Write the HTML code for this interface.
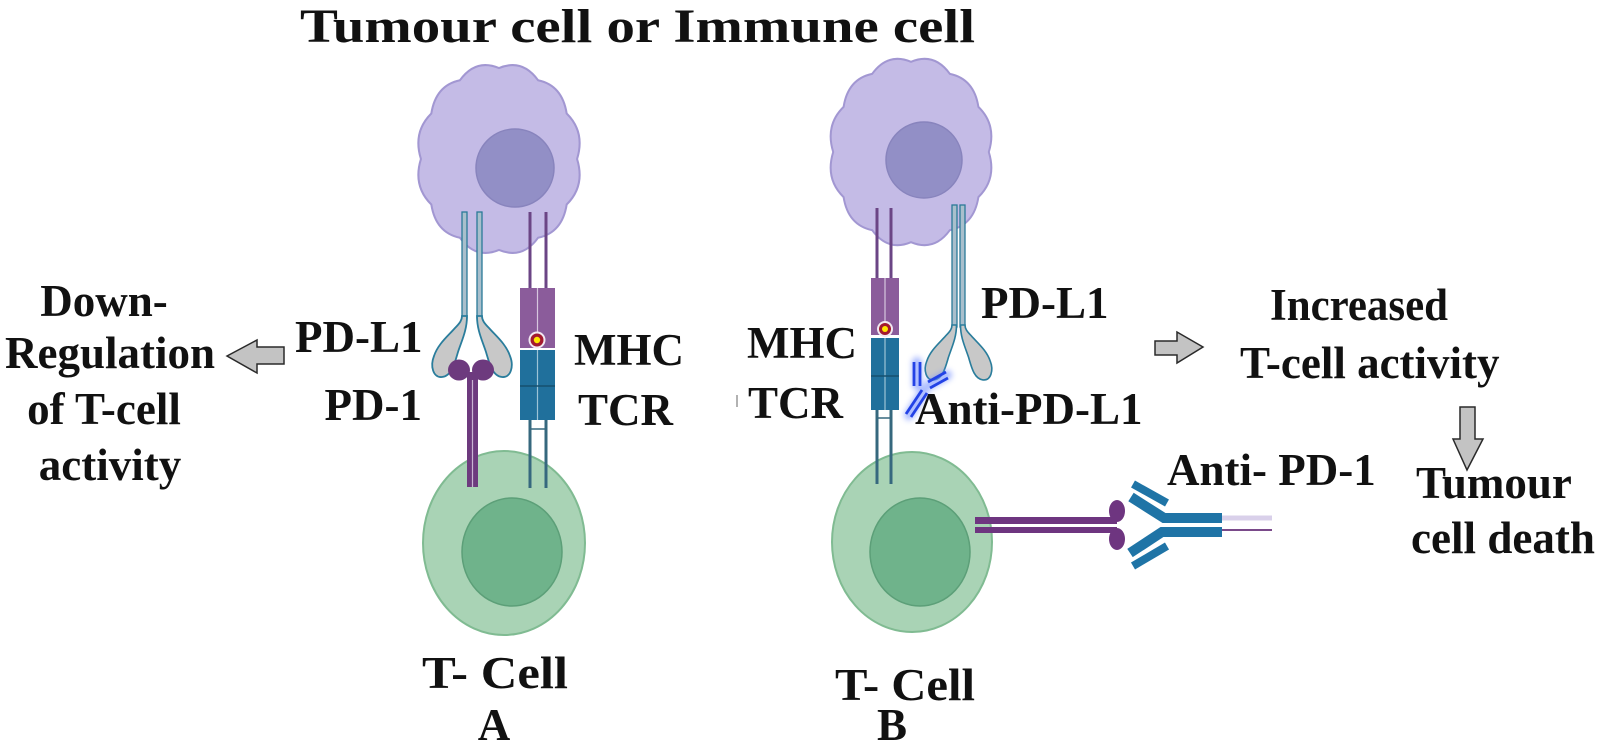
<!DOCTYPE html>
<html>
<head>
<meta charset="utf-8">
<style>
html,body{margin:0;padding:0;background:#fff;}
svg{display:block;}
text{font-family:"Liberation Serif","Times New Roman",serif;font-weight:bold;fill:#111;}
</style>
</head>
<body>
<svg width="1598" height="743" viewBox="0 0 1598 743" xmlns="http://www.w3.org/2000/svg">
<defs>
  <filter id="glow" x="-50%" y="-50%" width="200%" height="200%"><feGaussianBlur stdDeviation="3"/></filter>
  <path id="lobe" d="M462,306 L467,306 C467,320 462,330 458,342 C455,352 452,366 442,367 C433,368 430,356 434,346 C438,334 448,326 455,318 C460,313 462,310 462,306 Z" fill="#c8c8c8" stroke="#2a7d9c" stroke-width="1.8"/>
</defs>
<rect width="1598" height="743" fill="#fff"/>

<!-- Title -->
<text x="300" y="42" font-size="48" textLength="675" lengthAdjust="spacingAndGlyphs">Tumour cell or Immune cell</text>

<!-- T cells -->
<ellipse cx="504" cy="543" rx="81" ry="92" fill="#a9d3b5" stroke="#80bb92" stroke-width="2"/>
<ellipse cx="512" cy="552" rx="50" ry="54" fill="#6fb38b" stroke="#5c9f78" stroke-width="1.5"/>
<ellipse cx="912" cy="542" rx="80" ry="90" fill="#a9d3b5" stroke="#80bb92" stroke-width="2"/>
<ellipse cx="920" cy="552" rx="50" ry="54" fill="#6fb38b" stroke="#5c9f78" stroke-width="1.5"/>

<!-- Tumour cells -->
<path transform="translate(499,159) scale(1.03,1.03) translate(-494,-158)" d="M569.8,158 Q577.9,184.2 559.7,202.2 Q555.4,229.6 531.9,234.5 Q516.5,255.8 494,246.3 Q471.5,255.8 456.1,234.5 Q432.6,229.6 428.3,202.2 Q410.1,184.2 418.2,158 Q410.1,131.8 428.3,113.8 Q432.6,86.4 456.1,81.5 Q471.5,60.2 494,69.7 Q516.5,60.2 531.9,81.5 Q555.4,86.4 559.7,113.8 Q577.9,131.8 569.8,158 Z" fill="#c4bbe6" stroke="#a297d2" stroke-width="2"/>
<circle cx="515" cy="168" r="39" fill="#928fc6" stroke="#8884bd" stroke-width="1.5"/>
<path d="M988.8,152 Q997.1,178.8 978.4,197.1 Q974,225.1 949.9,230.1 Q934.1,251.9 911,242.2 Q887.9,251.9 872.1,230.1 Q848,225.1 843.6,197.1 Q824.9,178.8 833.2,152 Q824.9,125.2 843.6,106.9 Q848,78.9 872.1,73.9 Q887.9,52.1 911,61.8 Q934.1,52.1 949.9,73.9 Q974,78.9 978.4,106.9 Q997.1,125.2 988.8,152 Z" fill="#c4bbe6" stroke="#a297d2" stroke-width="2"/>
<circle cx="924" cy="160" r="38" fill="#928fc6" stroke="#8884bd" stroke-width="1.5"/>

<!-- ===== Panel A receptors ===== -->
<!-- PD-L1 A -->
<rect x="462" y="212" width="5" height="106" fill="#a9bfcc" stroke="#2b7a98" stroke-width="1.3"/>
<rect x="477" y="212" width="5" height="106" fill="#a9bfcc" stroke="#2b7a98" stroke-width="1.3"/>
<use href="#lobe" transform="translate(0,10)"/>
<use href="#lobe" transform="translate(944,10) scale(-1,1)"/>
<!-- PD-1 A -->
<rect x="467" y="372" width="11" height="115" fill="#6d3a7e"/>
<line x1="472.5" y1="380" x2="472.5" y2="487" stroke="#c9b3d3" stroke-width="1.2"/>
<ellipse cx="459" cy="370" rx="11" ry="10.5" fill="#6d3a7e"/>
<ellipse cx="483" cy="370" rx="11" ry="10.5" fill="#6d3a7e"/>
<!-- MHC/TCR A -->
<line x1="530" y1="212" x2="530" y2="290" stroke="#6b4585" stroke-width="3"/>
<line x1="546" y1="212" x2="546" y2="290" stroke="#6b4585" stroke-width="3"/>
<rect x="520" y="288" width="35" height="60" fill="#8b5c9b"/>
<line x1="537.5" y1="288" x2="537.5" y2="348" stroke="#d7c6de" stroke-width="1.2"/>
<rect x="520" y="350" width="35" height="70" fill="#20709c"/>
<line x1="537.5" y1="350" x2="537.5" y2="420" stroke="#9cc3d6" stroke-width="1.2"/>
<line x1="520" y1="386" x2="555" y2="386" stroke="#16506f" stroke-width="1.5"/>
<circle cx="537" cy="340" r="8.5" fill="#f1e8f1"/>
<circle cx="537" cy="340" r="6.5" fill="#a3192f"/>
<circle cx="537" cy="340" r="3.2" fill="#ffe600"/>
<line x1="530" y1="420" x2="530" y2="488" stroke="#36687e" stroke-width="3"/>
<line x1="546" y1="420" x2="546" y2="488" stroke="#36687e" stroke-width="3"/>
<line x1="530" y1="429" x2="546" y2="429" stroke="#36687e" stroke-width="1.5"/>

<!-- ===== Panel B receptors ===== -->
<!-- MHC/TCR B -->
<line x1="877" y1="208" x2="877" y2="280" stroke="#6b4585" stroke-width="3"/>
<line x1="891" y1="208" x2="891" y2="280" stroke="#6b4585" stroke-width="3"/>
<rect x="871" y="278" width="28" height="57" fill="#8b5c9b"/>
<line x1="885" y1="278" x2="885" y2="335" stroke="#d7c6de" stroke-width="1.2"/>
<rect x="871" y="338" width="28" height="72" fill="#20709c"/>
<line x1="885" y1="338" x2="885" y2="410" stroke="#9cc3d6" stroke-width="1.2"/>
<line x1="871" y1="376" x2="899" y2="376" stroke="#16506f" stroke-width="1.5"/>
<circle cx="885" cy="329" r="8" fill="#f1e8f1"/>
<circle cx="885" cy="329" r="6" fill="#a3192f"/>
<circle cx="885" cy="329" r="3" fill="#ffe600"/>
<line x1="877" y1="410" x2="877" y2="484" stroke="#36687e" stroke-width="3"/>
<line x1="891" y1="410" x2="891" y2="484" stroke="#36687e" stroke-width="3"/>
<line x1="877" y1="418" x2="891" y2="418" stroke="#36687e" stroke-width="1.5"/>
<!-- PD-L1 B -->
<rect x="952" y="205" width="5" height="122" fill="#a9bfcc" stroke="#2b7a98" stroke-width="1.3"/>
<rect x="960" y="205" width="5" height="122" fill="#a9bfcc" stroke="#2b7a98" stroke-width="1.3"/>
<use href="#lobe" transform="translate(952,325) scale(0.9) translate(-462,-306)"/>
<use href="#lobe" transform="translate(1917,0) scale(-1,1) translate(952,325) scale(0.9) translate(-462,-306)"/>
<!-- Anti-PD-L1 antibody -->
<g stroke="#6f8cff" stroke-width="10" stroke-linecap="round" opacity="0.6" filter="url(#glow)" fill="none">
  <line x1="917" y1="362" x2="917" y2="385"/>
  <line x1="929" y1="385" x2="947" y2="375"/>
  <line x1="924" y1="391" x2="909" y2="415"/>
</g>
<g stroke="#2342e6" stroke-width="2.8" fill="none">
  <line x1="914" y1="362" x2="914" y2="386"/>
  <line x1="920" y1="362" x2="920" y2="386"/>
  <line x1="928" y1="382" x2="946" y2="372"/>
  <line x1="930" y1="388" x2="948" y2="378"/>
  <line x1="922" y1="390" x2="906" y2="414"/>
  <line x1="927" y1="393" x2="911" y2="417"/>
</g>
<!-- small tick before TCR B -->
<line x1="737" y1="395" x2="737" y2="407" stroke="#999" stroke-width="1.5"/>

<!-- PD-1 on T cell B + Anti-PD-1 -->
<rect x="975" y="517" width="142" height="7" fill="#6e3580"/>
<rect x="975" y="527" width="142" height="6" fill="#6e3580"/>
<ellipse cx="1117" cy="511" rx="8" ry="11" fill="#6e3580"/>
<ellipse cx="1117" cy="539" rx="8" ry="11" fill="#6e3580"/>
<line x1="1220" y1="518" x2="1272" y2="518" stroke="#d9d0ea" stroke-width="5"/>
<line x1="1220" y1="530" x2="1272" y2="530" stroke="#7a4a8a" stroke-width="2"/>
<g stroke="#1f74a6" fill="none" stroke-linejoin="miter">
  <polyline points="1222,518 1164,518 1131,497" stroke-width="10"/>
  <polyline points="1222,532 1162,532 1130,553" stroke-width="10"/>
  <line x1="1133" y1="484" x2="1167" y2="503" stroke-width="8"/>
  <line x1="1133" y1="566" x2="1167" y2="546" stroke-width="8"/>
</g>

<!-- Arrows -->
<polygon points="227,356 257,340 257,347 284,347 284,364 257,364 257,373" fill="#c3c3c3" stroke="#2a2a2a" stroke-width="1.5"/>
<polygon points="1155,341 1177,341 1177,332 1203,347 1177,363 1177,355 1155,355" fill="#c3c3c3" stroke="#2a2a2a" stroke-width="1.5"/>
<polygon points="1460,407 1475,407 1475,439 1483,439 1467,470 1453,439 1460,439" fill="#c3c3c3" stroke="#2a2a2a" stroke-width="1.5"/>

<!-- Labels -->
<text x="104" y="316" font-size="45" text-anchor="middle">Down-</text>
<text x="110" y="368" font-size="45" text-anchor="middle">Regulation</text>
<text x="104" y="424" font-size="45" text-anchor="middle">of T-cell</text>
<text x="110" y="480" font-size="45" text-anchor="middle">activity</text>

<text x="295" y="352" font-size="45">PD-L1</text>
<text x="422" y="420" font-size="45" text-anchor="end">PD-1</text>
<text x="574" y="365" font-size="45">MHC</text>
<text x="578" y="425" font-size="45">TCR</text>

<text x="857" y="358" font-size="45" text-anchor="end">MHC</text>
<text x="843" y="418" font-size="45" text-anchor="end">TCR</text>
<text x="981" y="318" font-size="45">PD-L1</text>
<text x="915" y="424" font-size="45">Anti-PD-L1</text>
<text x="1167" y="485" font-size="45">Anti- PD-1</text>

<text x="1270" y="320" font-size="45" textLength="178" lengthAdjust="spacingAndGlyphs">Increased</text>
<text x="1240" y="378" font-size="45">T-cell activity</text>
<text x="1416" y="498" font-size="45">Tumour</text>
<text x="1411" y="553" font-size="45" textLength="184" lengthAdjust="spacingAndGlyphs">cell death</text>

<text x="422" y="688" font-size="46" textLength="146" lengthAdjust="spacingAndGlyphs">T- Cell</text>
<text x="494" y="740" font-size="45" text-anchor="middle">A</text>
<text x="835" y="700" font-size="46" textLength="140" lengthAdjust="spacingAndGlyphs">T- Cell</text>
<text x="892" y="740" font-size="45" text-anchor="middle">B</text>
</svg>
</body>
</html>
